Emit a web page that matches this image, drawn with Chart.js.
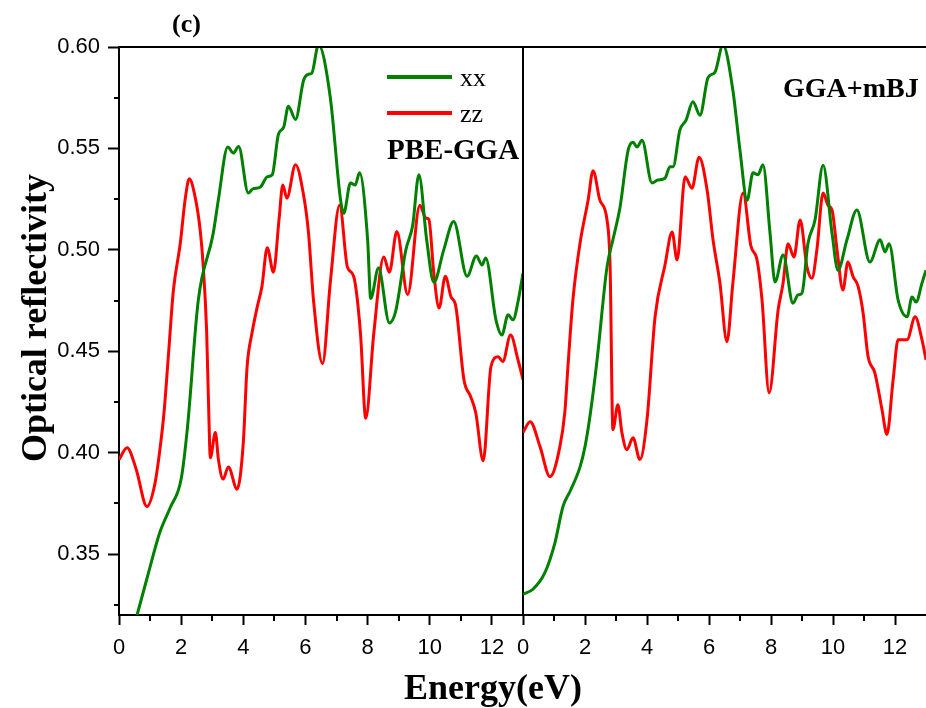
<!DOCTYPE html>
<html>
<head>
<meta charset="utf-8">
<script src="https://cdn.jsdelivr.net/npm/chart.js"></script>
<style>
  body { margin: 0; background: #fff; }
  #wrap { position: relative; width: 926px; height: 708px; overflow: hidden; }
  canvas { position: absolute; top: 0; }
  #left { left: 0; }
  #right { left: 446px; }
  .txt { position: absolute; font-family: "Liberation Serif", "Times New Roman", serif; line-height: 1; white-space: nowrap; color: #000; }
  .b { font-weight: bold; }
  .swatch { position: absolute; height: 4px; width: 65px; left: 387px; }
</style>
</head>
<body>
<div id="wrap">
  <canvas id="left" width="540" height="708"></canvas>
  <canvas id="right" width="480" height="708"></canvas>

  <div class="txt b" style="left:172px;top:11px;font-size:26px">(c)</div>
  <div class="swatch" style="top:75px;background:#008000"></div>
  <div class="txt" style="left:460px;top:65px;font-size:26px">xx</div>
  <div class="swatch" style="top:111px;background:#ff0000"></div>
  <div class="txt" style="left:460px;top:101px;font-size:26px">zz</div>
  <div class="txt b" style="left:387px;top:135px;font-size:29px">PBE-GGA</div>
  <div class="txt b" style="left:783px;top:74px;font-size:28px">GGA+mBJ</div>
  <div class="txt b" style="left:-166px;top:300px;width:400px;text-align:center;font-size:36px;transform:rotate(-90deg)">Optical reflectivity</div>
  <div class="txt b" style="left:293px;top:669px;width:400px;text-align:center;font-size:36px">Energy(eV)</div>
</div>
<script>
// axis ticks
var xTicks = [0, 2, 4, 6, 8, 10, 12];
var xMinor = [1, 3, 5, 7, 9, 11];
var yTicks = [0.35, 0.40, 0.45, 0.50, 0.55, 0.60];
var yMinor = [0.325, 0.375, 0.425, 0.475, 0.525, 0.575];

// PBE-GGA, xx
var pbeXxE = [0, 0.58, 0.9, 1.32, 1.65, 2.0, 2.2, 2.55, 3.03, 3.2, 3.5, 3.68, 3.85, 4.16, 4.3, 4.55, 4.77, 4.93,
  5.13, 5.3, 5.45, 5.68, 5.94, 6.1, 6.2, 6.42, 6.8, 7.13, 7.23, 7.45, 7.6, 7.74, 8.0, 8.1, 8.35, 8.7, 8.9,
  9.23, 9.45, 9.65, 9.9, 10.13, 10.45, 10.77, 11.2, 11.5, 11.68, 11.8, 12.13, 12.32, 12.52, 12.68, 12.84, 13.0];
var pbeXxR = [0.290, 0.320, 0.338, 0.361, 0.373, 0.387, 0.412, 0.475, 0.508, 0.525, 0.5507, 0.5477, 0.551, 0.528, 0.530, 0.531, 0.536, 0.537,
  0.557, 0.5605, 0.5708, 0.5643, 0.5836, 0.5866, 0.587, 0.601, 0.575, 0.5245, 0.518, 0.533, 0.532, 0.538, 0.505, 0.476, 0.491, 0.464, 0.4695,
  0.500, 0.512, 0.537, 0.505, 0.484, 0.500, 0.514, 0.487, 0.497, 0.4925, 0.496, 0.4655, 0.458, 0.468, 0.4655, 0.4745, 0.4885];

// PBE-GGA, zz
var pbeZzE = [0, 0.26, 0.55, 0.9, 1.16, 1.32, 1.45, 1.6, 1.75, 1.97, 2.13, 2.26, 2.45, 2.61, 2.71, 2.82, 2.88, 2.94, 3.1, 3.2, 3.35,
  3.52, 3.8, 4.0, 4.12, 4.28, 4.45, 4.6, 4.77, 4.97, 5.15, 5.27, 5.4, 5.68, 5.95, 6.1, 6.26, 6.55, 6.8, 7.1, 7.35,
  7.55, 7.77, 7.94, 8.2, 8.52, 8.7, 8.94, 9.29, 9.68, 9.87, 9.97, 10.13, 10.3, 10.5, 10.68, 10.84, 11.1, 11.32, 11.48,
  11.72, 11.97, 12.2, 12.35, 12.6, 12.84, 13.0];
var pbeZzR = [0.3966, 0.4025, 0.392, 0.3735, 0.385, 0.402, 0.420, 0.450, 0.480, 0.503, 0.525, 0.535, 0.526, 0.510, 0.492, 0.460, 0.425, 0.3975, 0.410, 0.3966, 0.387,
  0.393, 0.382, 0.405, 0.442, 0.459, 0.472, 0.482, 0.501, 0.489, 0.515, 0.532, 0.5255, 0.542, 0.526, 0.508, 0.475, 0.444, 0.484, 0.522, 0.4915,
  0.487, 0.459, 0.417, 0.459, 0.4965, 0.489, 0.509, 0.478, 0.522, 0.5157, 0.515, 0.4885, 0.4713, 0.487, 0.477, 0.472, 0.436, 0.4275, 0.4197,
  0.396, 0.4425, 0.4473, 0.445, 0.458, 0.4457, 0.436];

// GGA+mBJ, xx
var mbjXxE = [0, 0.32, 0.71, 1.03, 1.29, 1.52, 1.84, 2.0, 2.16, 2.39, 2.71, 2.9, 3.13, 3.39, 3.55, 3.68, 3.84, 4.16, 4.35, 4.58,
  4.74, 4.84, 5.06, 5.26, 5.48, 5.71, 5.97, 6.19, 6.45, 6.77, 7.0, 7.23, 7.42, 7.58, 7.74, 7.97, 8.13, 8.39, 8.71, 8.87,
  9.0, 9.19, 9.42, 9.68, 9.97, 10.16, 10.45, 10.77, 11.19, 11.52, 11.68, 11.81, 12.1, 12.39, 12.55, 12.68, 12.87, 13.0];
var mbjXxR = [0.3302, 0.3327, 0.341, 0.3556, 0.3735, 0.381, 0.393, 0.403, 0.418, 0.4458, 0.4916, 0.505, 0.521, 0.549, 0.553, 0.5507, 0.554, 0.533, 0.5344, 0.5353,
  0.541, 0.541, 0.559, 0.564, 0.573, 0.5664, 0.585, 0.5875, 0.601, 0.5787, 0.549, 0.5245, 0.538, 0.537, 0.542, 0.508, 0.4842, 0.4975, 0.4737, 0.4778,
  0.4787, 0.503, 0.5147, 0.5417, 0.508, 0.490, 0.505, 0.5196, 0.494, 0.505, 0.499, 0.503, 0.4753, 0.467, 0.4768, 0.4743, 0.4836, 0.490];

// GGA+mBJ, zz
var mbjZzE = [0, 0.23, 0.55, 0.87, 1.19, 1.35, 1.45, 1.61, 1.84, 2.1, 2.26, 2.48, 2.71, 2.81, 2.9, 3.06, 3.19, 3.35, 3.55, 3.77,
  4.0, 4.26, 4.58, 4.81, 4.97, 5.23, 5.45, 5.68, 5.94, 6.13, 6.35, 6.58, 6.77, 7.1, 7.35, 7.55, 7.71, 7.94, 8.23, 8.39,
  8.55, 8.74, 8.94, 9.16, 9.32, 9.48, 9.68, 9.84, 9.97, 10.13, 10.32, 10.48, 10.65, 10.81, 10.97, 11.13, 11.35, 11.58, 11.74,
  11.94, 12.1, 12.39, 12.65, 12.87, 13.0];
var mbjZzR = [0.410, 0.4153, 0.403, 0.3882, 0.403, 0.420, 0.4425, 0.4754, 0.5033, 0.5245, 0.539, 0.5245, 0.5147, 0.4916, 0.4114, 0.4236, 0.410, 0.4015, 0.4074, 0.3966,
  0.4163, 0.467, 0.4925, 0.5088, 0.495, 0.536, 0.5304, 0.5457, 0.5294, 0.505, 0.484, 0.4547, 0.4836, 0.528, 0.502, 0.495, 0.4753, 0.4295, 0.4704, 0.4836,
  0.503, 0.4965, 0.5147, 0.4916, 0.486, 0.500, 0.528, 0.522, 0.5196, 0.500, 0.4802, 0.494, 0.4867, 0.482, 0.469, 0.4475, 0.4394, 0.4213, 0.409,
  0.436, 0.4557, 0.4557, 0.467, 0.4557, 0.4458];

Chart.defaults.font.family = "'Liberation Sans', Arial, sans-serif";
Chart.defaults.color = "#000";

function pts(xs, ys) {
  return xs.map(function (x, i) { return { x: x, y: ys[i] }; });
}

// top frame line + minor ticks
var framePlugin = {
  id: "frame",
  afterDraw: function (chart, args, opts) {
    var ctx = chart.ctx, a = chart.chartArea;
    var sx = chart.scales.x, sy = chart.scales.y;
    ctx.save();
    ctx.strokeStyle = "#000";
    ctx.lineWidth = 2;
    ctx.beginPath();
    ctx.moveTo(a.left - 1, a.top);
    ctx.lineTo(a.right, a.top);
    xMinor.forEach(function (v) {
      var px = Math.round(sx.getPixelForValue(v));
      ctx.moveTo(px, a.bottom);
      ctx.lineTo(px, a.bottom + 6);
    });
    if (opts.minorY) {
      yMinor.forEach(function (v) {
        var py = Math.round(sy.getPixelForValue(v));
        ctx.moveTo(a.left, py);
        ctx.lineTo(a.left - 5, py);
      });
    }
    ctx.stroke();
    ctx.restore();
  }
};

function makeChart(id, xx, zz, showY, yWidth, padRight) {
  var ds = function (data, color) {
    return {
      data: data,
      borderColor: color,
      borderWidth: 3,
      pointRadius: 0,
      fill: false,
      cubicInterpolationMode: "monotone",
      clip: 0
    };
  };
  return new Chart(document.getElementById(id).getContext("2d"), {
    type: "line",
    data: { datasets: [ds(xx, "#008000"), ds(zz, "#ff0000")] },
    options: {
      responsive: false,
      animation: false,
      events: [],
      layout: { padding: { top: 47, right: padRight, bottom: 0, left: 0 } },
      plugins: {
        legend: { display: false },
        tooltip: { enabled: false },
        frame: { minorY: showY }
      },
      scales: {
        x: {
          type: "linear",
          min: 0,
          max: 13,
          afterBuildTicks: function (s) { s.ticks = xTicks.map(function (v) { return { value: v }; }); },
          afterFit: function (s) { s.height = 93; },
          ticks: { font: { size: 22 }, padding: 10, maxRotation: 0, autoSkip: false },
          grid: { drawOnChartArea: false, tickLength: 10, tickWidth: 2, tickColor: "#000" },
          border: { color: "#000", width: 2 }
        },
        y: {
          type: "linear",
          min: 0.32,
          max: 0.60,
          afterBuildTicks: function (s) { s.ticks = yTicks.map(function (v) { return { value: v }; }); },
          afterFit: function (s) { s.width = yWidth; },
          ticks: {
            display: showY,
            font: { size: 22 },
            padding: 8,
            callback: function (v) { return v.toFixed(2); }
          },
          grid: { drawOnChartArea: false, drawTicks: showY, tickLength: 11, tickWidth: 2, tickColor: "#000" },
          border: { color: "#000", width: 2 }
        }
      }
    },
    plugins: [framePlugin]
  });
}

makeChart("left", pts(pbeXxE, pbeXxR), pts(pbeZzE, pbeZzR), true, 119, 17);
makeChart("right", pts(mbjXxE, mbjXxR), pts(mbjZzE, mbjZzR), false, 77, 0);
</script>
</body>
</html>
